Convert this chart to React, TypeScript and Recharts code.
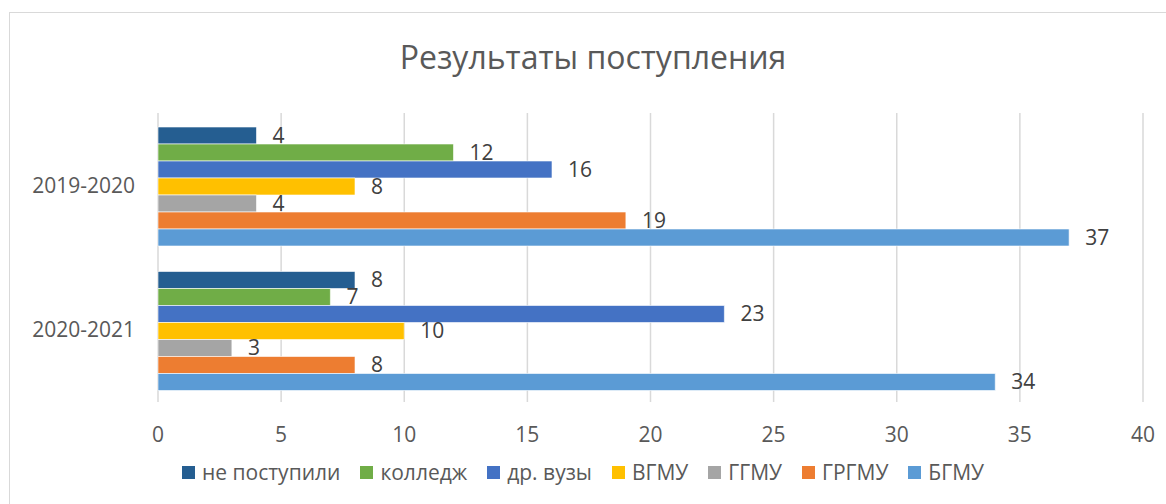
import React from 'react';
import { BarChart, Bar, XAxis, YAxis, CartesianGrid, LabelList } from 'recharts';

const categories = ['2019-2020', '2020-2021'];
const notAdmitted = [4, 8];
const college = [12, 7];
const otherUni = [16, 23];
const vgmu = [8, 10];
const ggmu = [4, 3];
const grgmu = [19, 8];
const bgmu = [37, 34];
const xTicks = [0, 5, 10, 15, 20, 25, 30, 35, 40];

const seriesDefs = [
  { key: 'notAdmitted', name: 'не поступили', color: '#255E91', values: notAdmitted },
  { key: 'college', name: 'колледж', color: '#70AD47', values: college },
  { key: 'otherUni', name: 'др. вузы', color: '#4472C4', values: otherUni },
  { key: 'vgmu', name: 'ВГМУ', color: '#FFC000', values: vgmu },
  { key: 'ggmu', name: 'ГГМУ', color: '#A5A5A5', values: ggmu },
  { key: 'grgmu', name: 'ГРГМУ', color: '#ED7D31', values: grgmu },
  { key: 'bgmu', name: 'БГМУ', color: '#5B9BD5', values: bgmu },
];

const data = categories.map((year, i) => {
  const row: Record<string, string | number> = { year };
  seriesDefs.forEach((s) => {
    row[s.key] = s.values[i];
  });
  return row;
});

const FONT = '"Open Sans", "Noto Sans", sans-serif';

export default function App() {
  return (
    <div
      style={{
        position: 'absolute',
        left: 0,
        top: 0,
        width: 1166,
        height: 504,
        background: '#fff',
        fontFamily: FONT,
        overflow: 'hidden',
      }}
    >
      <div
        style={{
          position: 'absolute',
          left: 9,
          top: 12,
          width: 1157,
          height: 492,
          borderLeft: '1px solid #d9d9d9',
          borderTop: '1px solid #d9d9d9',
          boxSizing: 'border-box',
        }}
      />
      <div
        style={{
          position: 'absolute',
          left: 0,
          width: 1166,
          top: 34,
          textAlign: 'center',
          fontSize: 32,
          lineHeight: '46px',
          color: '#595959',
          paddingLeft: 20,
          boxSizing: 'border-box',
        }}
      >
        Результаты поступления
      </div>
      <div style={{ position: 'absolute', left: 0, top: 0 }}>
        <BarChart
          width={1166}
          height={504}
          data={data}
          layout="vertical"
          margin={{ top: 113, right: 23, bottom: 42, left: 8 }}
          barCategoryGap={14}
          barGap={0}
        >
          <CartesianGrid horizontal={false} stroke="#d9d9d9" strokeWidth={1.5} />
          <XAxis
            type="number"
            domain={[0, 40]}
            ticks={xTicks}
            axisLine={false}
            tickLine={false}
            tickSize={0}
            tickMargin={25}
            height={60}
            tick={{ fill: '#595959', fontSize: 21, fontFamily: FONT }}
          />
          <YAxis
            type="category"
            dataKey="year"
            width={150}
            axisLine={false}
            tickLine={false}
            tickSize={0}
            tickMargin={23}
            tick={{ fill: '#595959', fontSize: 21, fontFamily: FONT }}
          />
          {seriesDefs.map((s) => (
            <Bar
              key={s.key}
              dataKey={s.key}
              name={s.name}
              fill={s.color}
              stroke="#ffffff"
              strokeWidth={0.6}
              isAnimationActive={false}
            >
              <LabelList
                dataKey={s.key}
                position="right"
                offset={16}
                fill="#404040"
                fontSize={21}
                fontFamily={FONT}
              />
            </Bar>
          ))}
        </BarChart>
      </div>
      <div
        style={{
          position: 'absolute',
          left: 0,
          width: 1166,
          top: 458,
          height: 28,
          display: 'flex',
          justifyContent: 'center',
          alignItems: 'center',
          gap: 20,
          fontSize: 21,
          color: '#595959',
        }}
      >
        {seriesDefs.map((s) => (
          <div key={s.key} style={{ display: 'flex', alignItems: 'center' }}>
            <span
              style={{
                display: 'inline-block',
                width: 13,
                height: 13,
                background: s.color,
                marginRight: 7,
              }}
            />
            <span>{s.name}</span>
          </div>
        ))}
      </div>
    </div>
  );
}
